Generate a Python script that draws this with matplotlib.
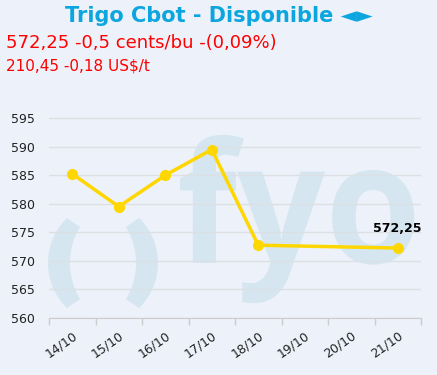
import matplotlib
matplotlib.use('Agg')
import matplotlib.pyplot as plt
from matplotlib.patches import Polygon, PathPatch
from matplotlib.textpath import TextPath
from matplotlib.font_manager import FontProperties
from matplotlib.transforms import Affine2D, ScaledTranslation
import numpy as np

dates = ['14/10', '15/10', '16/10', '17/10', '18/10', '19/10', '20/10', '21/10']
prices = [585.25, 579.5, 585.0, 589.5, 572.75, None, None, 572.25]
yticks = [560, 565, 570, 575, 580, 585, 590, 595]

title = 'Trigo Cbot - Disponible \u25c4\u25ba'
line1 = '572,25 -0,5 cents/bu -(0,09%)'
line2 = '210,45 -0,18 US$/t'
last_label = '572,25'

W, H = 437, 375
bg = '#edf1f9'
wm = '#d5e6f0'
fig = plt.figure(figsize=(W / 100, H / 100), dpi=100, facecolor=bg)

# watermark layer, in pixel units (y up)
wax = fig.add_axes([0, 0, 1, 1])
wax.set_xlim(0, W)
wax.set_ylim(0, H)
wax.axis('off')
cy = H - 263


def paren(mirror=False):
    a_out = np.radians(np.linspace(134.4, 225.6, 40))
    a_in = np.radians(np.linspace(211, 149, 40))
    xs = np.concatenate([111 + 63 * np.cos(a_out), 140 + 70 * np.cos(a_in)])
    ys = np.concatenate([cy + 63 * np.sin(a_out), cy + 70 * np.sin(a_in)])
    if mirror:
        xs = 206 - xs
    return Polygon(np.column_stack([xs, ys]), closed=True, color=wm, lw=0)


wax.add_patch(paren())
wax.add_patch(paren(True))
tp = TextPath((0, 0), 'fyo', size=155,
              prop=FontProperties(family='Open Sans', weight='bold'))
tp = Affine2D().scale(1.0, 1.08).translate(177, cy).transform_path(tp)
wax.add_patch(PathPatch(tp, color=wm, lw=0))

ax = fig.add_axes([49 / W, 1 - 318 / H, 372 / W, 217 / H])
ax.patch.set_visible(False)

x = [i for i, v in enumerate(prices) if v is not None]
y = [v for v in prices if v is not None]
ax.plot(x, y, color='#ffd700', lw=2.5, marker='o', ms=7, zorder=3)
ax.text(x[-1], y[-1] + 2.2, last_label, ha='center', va='bottom',
        fontsize=9, fontweight='bold', color='black', zorder=4)

ax.set_xlim(-0.5, len(dates) - 0.5)
ax.set_ylim(560, 598)
ax.set_yticks(yticks)
ax.set_yticklabels([str(t) for t in yticks], fontsize=9, color='#222222')
ax.grid(axis='y', color='#dcdfe4', lw=1)
ax.set_axisbelow(True)

ax.set_xticks(range(len(dates)))
ax.set_xticklabels(dates, rotation=35, ha='right', rotation_mode='anchor',
                   fontsize=9, color='#222222')
shift = ScaledTranslation(-0.04, -0.02, fig.dpi_scale_trans)
for lab in ax.get_xticklabels():
    lab.set_transform(lab.get_transform() + shift)
ax.set_xticks(np.arange(-0.5, len(dates), 1), minor=True)
ax.tick_params(axis='x', which='major', length=0, pad=8)
ax.tick_params(axis='x', which='minor', length=5, color='#cccccc', width=1)
ax.tick_params(axis='y', length=0, pad=10)

for s in ['top', 'right', 'left']:
    ax.spines[s].set_visible(False)
ax.spines['bottom'].set_color('#cccccc')

fig.text(0.5, 1 - 16 / H, title, ha='center', va='center',
         fontsize=15, fontweight='bold', color='#0ba6df')
fig.text(6 / W, 1 - 43 / H, line1, ha='left', va='center',
         fontsize=13, color='#ff0000')
fig.text(6 / W, 1 - 66 / H, line2, ha='left', va='center',
         fontsize=11, color='#ff0000')

fig.savefig('out.png', dpi=100, facecolor=bg)
